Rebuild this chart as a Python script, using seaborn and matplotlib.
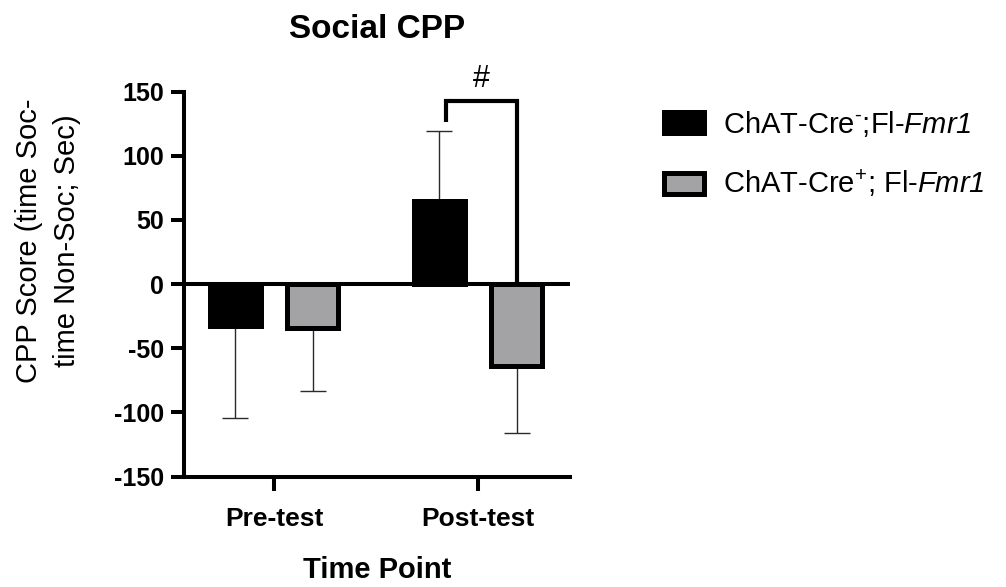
import numpy as np
import pandas as pd
import matplotlib
matplotlib.use("Agg")
import matplotlib.pyplot as plt
import seaborn as sns

# ---- data -------------------------------------------------------------
time_points = ["Pre-test", "Post-test"]
genotypes = ["ChAT-Cre$^{\\text{-}}$;Fl-$\\mathsf{Fmr1}$",
             "ChAT-Cre$^{+}$; Fl-$\\mathsf{Fmr1}$"]
cre_neg_mean = [-33, 65]
cre_pos_mean = [-34, -64]
cre_neg_sem = [71, 54]
cre_pos_sem = [49, 52]
y_ticks = [-150, -100, -50, 0, 50, 100, 150]

df = pd.DataFrame({
    "Time Point": time_points * 2,
    "Genotype": [genotypes[0]] * 2 + [genotypes[1]] * 2,
    "Score": cre_neg_mean + cre_pos_mean,
    "SEM": cre_neg_sem + cre_pos_sem,
})

# ---- style ------------------------------------------------------------
sns.set_style("ticks")
plt.rcParams["font.family"] = ["Liberation Sans", "DejaVu Sans"]
plt.rcParams["mathtext.fontset"] = "custom"
plt.rcParams["mathtext.rm"] = "Liberation Sans"
plt.rcParams["mathtext.sf"] = "Liberation Sans:italic"
plt.rcParams["axes.unicode_minus"] = False
for key in ("text.color", "axes.labelcolor", "xtick.color", "ytick.color",
            "axes.edgecolor"):
    plt.rcParams[key] = "black"

fig = plt.figure(figsize=(10.06, 5.87), dpi=100)
ax = fig.add_axes([0.183, 0.188, 0.3836, 0.656])

sns.barplot(
    data=df, x="Time Point", y="Score", hue="Genotype",
    order=time_points, hue_order=genotypes,
    palette=["#000000", "#a2a2a6"], errorbar=None,
    width=0.756, gap=0.33, edgecolor="black", linewidth=3.6,
    ax=ax, legend=True,
)

# one-sided error bars, pointing away from zero
bars = [p for p in ax.patches if p.get_width() > 0]
means = cre_neg_mean + cre_pos_mean
sems = cre_neg_sem + cre_pos_sem
for patch, val, err in zip(bars, means, sems):
    xc = patch.get_x() + patch.get_width() / 2
    yerr = [[err], [0]] if val < 0 else [[0], [err]]
    ax.errorbar([xc], [val], yerr=yerr, fmt="none", ecolor="#2a2a2a",
                elinewidth=1.0, capsize=9.5, capthick=1.0, zorder=0.5)

# zero line
ax.axhline(0, color="black", lw=2.9, zorder=3)

# significance bracket between the post-test bars
post_neg = bars[1]
post_pos = bars[3]
x0 = post_neg.get_x() + post_neg.get_width() / 2 + 0.033
x1 = post_pos.get_x() + post_pos.get_width() / 2
ax.plot([x0, x0, x1, x1], [126, 143, 143, 0], color="black", lw=3.0,
        solid_joinstyle="miter", solid_capstyle="butt", zorder=4, clip_on=False)
ax.text((x0 + x1) / 2, 148, "#", ha="center", va="bottom", fontsize=22)

# axes
ax.set_ylim(-150, 150)
ax.set_xlim(-0.441, 1.451)
ax.set_yticks(y_ticks)
sns.despine(ax=ax)
for s in ("left", "bottom"):
    ax.spines[s].set_linewidth(2.9)
ax.tick_params(axis="y", length=9.5, width=2.9, pad=5, labelsize=18)
ax.tick_params(axis="x", length=10, width=2.9, pad=12, labelsize=19)
for lab in ax.get_xticklabels() + ax.get_yticklabels():
    lab.set_fontweight("bold")

ax.set_xlabel("Time Point", fontsize=21, fontweight="bold", labelpad=18)
ax.set_ylabel("")
fig.text(0.375, 0.949, "Social CPP", ha="center", va="center",
         fontsize=24, fontweight="bold")

fig.text(0.048, 0.59, "CPP Score (time Soc-\ntime Non-Soc; Sec)",
         rotation=90, ha="center", va="center", fontsize=21,
         multialignment="center", linespacing=1.45)

# legend
handles, labels = ax.get_legend_handles_labels()
ax.legend(handles, labels, loc="upper left", bbox_to_anchor=(0.648, 0.835),
          bbox_transform=fig.transFigure, frameon=False, fontsize=21,
          handlelength=1.4, handleheight=0.72, handletextpad=0.65,
          labelspacing=1.0, borderaxespad=0)

fig.savefig("out.png", dpi=100)
